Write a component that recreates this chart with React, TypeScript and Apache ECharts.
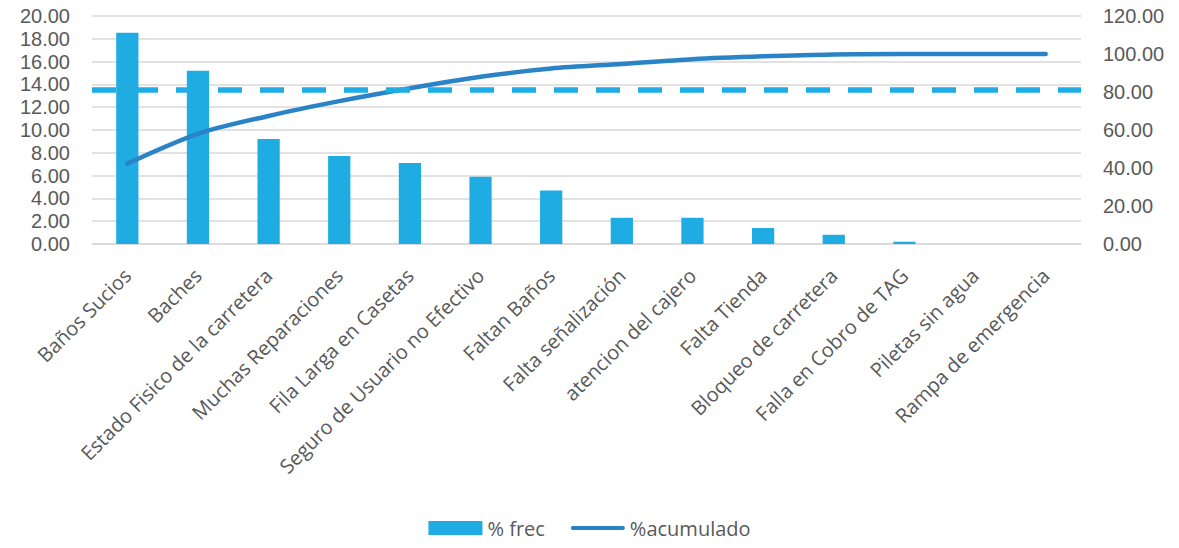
import React, { useEffect, useRef } from "react";
import * as echarts from "echarts";

const categories = [
  "Baños Sucios",
  "Baches",
  "Estado Fisico de la carretera",
  "Muchas Reparaciones",
  "Fila Larga en Casetas",
  "Seguro de Usuario no Efectivo",
  "Faltan Baños",
  "Falta señalización",
  "atencion del cajero",
  "Falta Tienda",
  "Bloqueo de carretera",
  "Falla en Cobro de TAG",
  "Piletas sin agua",
  "Rampa de emergencia",
];
const frec = [18.52, 15.2, 9.2, 7.71, 7.1, 5.91, 4.69, 2.3, 2.3, 1.4, 0.81, 0.2, 0, 0];
const acumulado = [42.3, 58.0, 67.4, 75.2, 82.0, 88.0, 92.4, 94.8, 97.3, 98.8, 99.8, 100, 100, 100];
const threshold = 13.5;

const FONT = "'Open Sans', sans-serif";
const TICK_FONT = "'Liberation Sans', Arial, sans-serif";
const LINE_ICON = "path://M2,0 L54,0 A2,2 0 0 1 54,4 L2,4 A2,2 0 0 1 2,0 Z";

export default function App() {
  const ref = useRef<HTMLDivElement>(null);
  useEffect(() => {
    const chart = echarts.init(ref.current!, null, { renderer: "svg" });
    const tickLabel = {
      formatter: (v: number) => v.toFixed(2),
      fontSize: 20,
      lineHeight: 20,
      color: "#595959",
      margin: 22,
      fontFamily: TICK_FONT,
    };
    chart.setOption({
      animation: false,
      textStyle: { fontFamily: FONT },
      grid: { left: 92, right: 98, top: 16, bottom: 304, containLabel: false },
      legend: {
        bottom: 5,
        left: "center",
        itemWidth: 54,
        itemHeight: 14,
        itemGap: 26,
        textStyle: { fontSize: 20, color: "#595959", fontFamily: FONT },
        data: [
          { name: "% frec", icon: "rect" },
          { name: "%acumulado", icon: LINE_ICON },
        ],
      },
      xAxis: {
        type: "category",
        data: categories,
        axisTick: { show: false },
        axisLine: { lineStyle: { color: "#d9d9d9", width: 1.5 } },
        axisLabel: {
          interval: 0,
          rotate: 45,
          fontSize: 20,
          color: "#595959",
          margin: 28,
          fontFamily: FONT,
        },
      },
      yAxis: [
        {
          type: "value",
          min: 0,
          max: 20,
          interval: 2,
          axisLine: { show: false },
          axisTick: { show: false },
          splitLine: { lineStyle: { color: "#d9d9d9", width: 1.5 } },
          axisLabel: tickLabel,
        },
        {
          type: "value",
          min: 0,
          max: 120,
          interval: 20,
          axisLine: { show: false },
          axisTick: { show: false },
          splitLine: { show: false },
          axisLabel: tickLabel,
        },
      ],
      series: [
        {
          name: "% frec",
          type: "bar",
          data: frec,
          barWidth: "31.5%",
          itemStyle: { color: "#1eace3" },
          markLine: {
            silent: true,
            symbol: "none",
            label: { show: false },
            lineStyle: { color: "#1eade4", width: 5.5, type: [24, 18] as any },
            data: [{ yAxis: threshold }],
          },
        },
        {
          name: "%acumulado",
          type: "line",
          yAxisIndex: 1,
          data: acumulado,
          smooth: 0.3,
          symbol: "none",
          lineStyle: { color: "#2a83c6", width: 4.5, cap: "round" },
          itemStyle: { color: "#2a83c6" },
        },
      ],
    });
    return () => chart.dispose();
  }, []);
  return (
    <div
      ref={ref}
      style={{ position: "absolute", left: 0, top: 0, width: 1179, height: 548 }}
    />
  );
}
